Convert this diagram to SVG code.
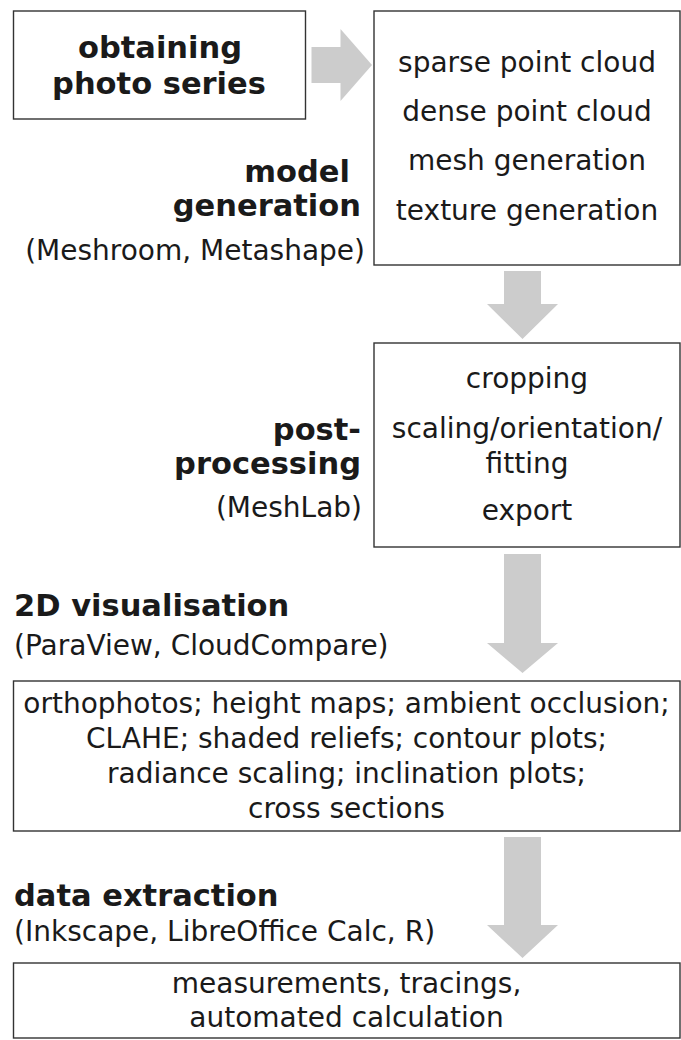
<svg xmlns="http://www.w3.org/2000/svg" width="681" height="1040" viewBox="0 0 681 1040">
<style>
.box{fill:#fff;stroke:#333;stroke-width:1.4}
.arr{fill:#cccccc;stroke:none}
text{font-family:"DejaVu Sans","Liberation Sans",sans-serif;fill:#1a1a1a}
.b{font-weight:bold;font-size:30.5px}
.r{font-size:28px}
.m{text-anchor:middle}
.e{text-anchor:end}
</style>
<rect width="681" height="1040" fill="#fff"/>
<g id="connectors">
<polygon class="arr" points="311.5,47 340.5,47 340.5,29 372,65 340.5,101 340.5,83 311.5,83"/>
<polygon class="arr" points="504,271 541,271 541,304 558,304 522.5,339 487,304 504,304"/>
<polygon class="arr" points="504,554 541,554 541,643 558,643 522.5,673 487,643 504,643"/>
<polygon class="arr" points="504,837 541,837 541,925 558,925 522.5,958 487,925 504,925"/>
</g>
<g id="photo-series">
<rect class="box" x="13.5" y="11" width="292" height="108"/>
<text class="b m" x="160" y="58">obtaining</text>
<text class="b m" x="159" y="94">photo series</text>
</g>
<g id="model-generation-label">
<text class="b e" x="350" y="182">model</text>
<text class="b e" x="361" y="216">generation</text>
<text class="r e" x="365" y="260">(Meshroom, Metashape)</text>
</g>
<g id="model-generation">
<rect class="box" x="374" y="11" width="306" height="254"/>
<text class="r m" x="527" y="72">sparse point cloud</text>
<text class="r m" x="527" y="121">dense point cloud</text>
<text class="r m" x="527" y="170">mesh generation</text>
<text class="r m" x="527" y="220">texture generation</text>
</g>
<g id="post-processing-label">
<text class="b e" x="361" y="440">post-</text>
<text class="b e" x="361" y="474">processing</text>
<text class="r e" x="362" y="517">(MeshLab)</text>
</g>
<g id="post-processing">
<rect class="box" x="374" y="343" width="306" height="204"/>
<text class="r m" x="527" y="388">cropping</text>
<text class="r m" x="527" y="438">scaling/orientation/</text>
<text class="r m" x="527" y="473">fitting</text>
<text class="r m" x="527" y="520">export</text>
</g>
<g id="visualisation-label">
<text class="b" x="14" y="616">2D visualisation</text>
<text class="r" x="14" y="655">(ParaView, CloudCompare)</text>
</g>
<g id="visualisation">
<rect class="box" x="13.5" y="681" width="666.5" height="150"/>
<text class="r m" x="346.5" y="713">orthophotos; height maps; ambient occlusion;</text>
<text class="r m" x="346.5" y="748">CLAHE; shaded reliefs; contour plots;</text>
<text class="r m" x="346.5" y="783">radiance scaling; inclination plots;</text>
<text class="r m" x="346.5" y="818">cross sections</text>
</g>
<g id="data-extraction-label">
<text class="b" x="14" y="906">data extraction</text>
<text class="r" x="14" y="941">(Inkscape, LibreOffice Calc, R)</text>
</g>
<g id="data-extraction">
<rect class="box" x="13.5" y="963" width="666.5" height="75"/>
<text class="r m" x="346.5" y="993">measurements, tracings,</text>
<text class="r m" x="346.5" y="1027">automated calculation</text>
</g>
</svg>
